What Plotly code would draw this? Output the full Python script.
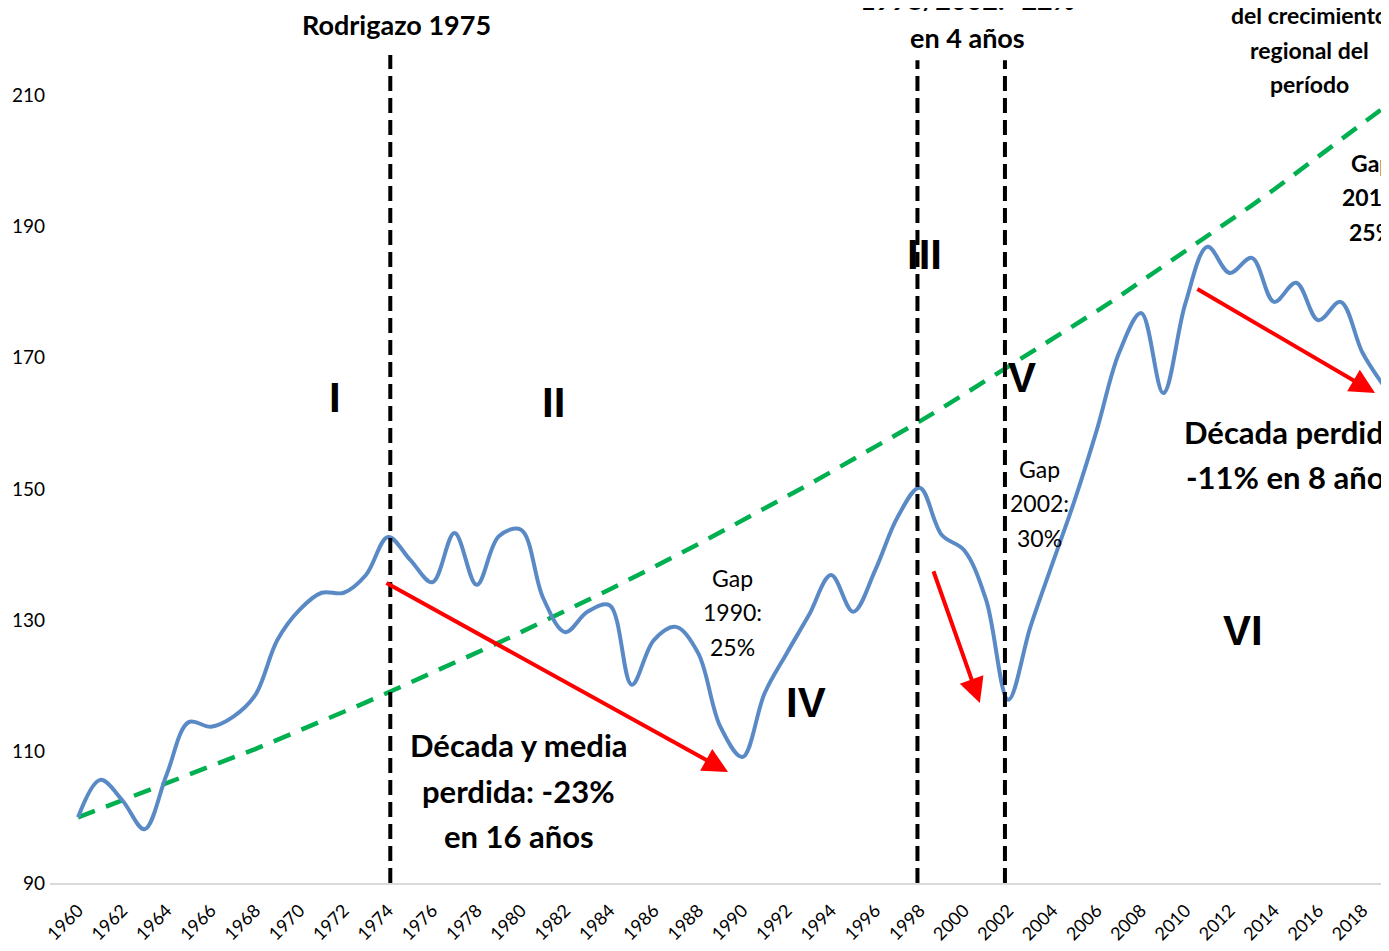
import plotly.graph_objects as go

# ---------------- data ----------------
years = [1960, 1961, 1962, 1963, 1964, 1965, 1966, 1967, 1968, 1969,
         1970, 1971, 1972, 1973, 1974, 1975, 1976, 1977, 1978, 1979,
         1980, 1981, 1982, 1983, 1984, 1985, 1986, 1987, 1988, 1989,
         1990, 1991, 1992, 1993, 1994, 1995, 1996, 1997, 1998, 1999,
         2000, 2001, 2002, 2003, 2004, 2005, 2006, 2007, 2008, 2009,
         2010, 2011, 2012, 2013, 2014, 2015, 2016, 2017, 2018, 2019]

gdp_index = [100.0, 105.7, 102.6, 98.2, 106.5, 114.5, 113.8, 115.3, 118.6, 127.0,
             131.6, 134.2, 134.2, 136.9, 142.7, 139.2, 135.8, 143.3, 135.4, 142.8,
             143.8, 133.4, 128.2, 131.3, 132.3, 120.2, 127.0, 129.0, 125.0, 113.8,
             109.2, 118.9, 125.0, 130.8, 136.9, 131.3, 137.7, 145.7, 150.2, 143.0,
             140.7, 133.1, 117.9, 129.0, 138.7, 148.3, 159.0, 170.7, 176.8, 164.6,
             178.3, 186.9, 182.9, 185.2, 178.5, 181.4, 175.7, 178.5, 170.7, 165.5]

regional_trend = [100.0, 101.3, 102.5, 103.8, 105.1, 106.4, 107.7, 109.1, 110.4, 111.8,
                  113.2, 114.6, 116.1, 117.5, 119.0, 120.5, 122.0, 123.5, 125.0, 126.6,
                  128.2, 129.8, 131.4, 133.1, 134.7, 136.4, 138.1, 139.8, 141.6, 143.4,
                  145.2, 147.0, 148.8, 150.7, 152.6, 154.5, 156.4, 158.4, 160.3, 162.3,
                  164.4, 166.4, 168.5, 170.6, 172.8, 174.9, 177.1, 179.3, 181.6, 183.9,
                  186.1, 188.5, 190.8, 193.2, 195.6, 198.1, 200.6, 203.1, 205.6, 208.2]

tick_years = [1960, 1962, 1964, 1966, 1968, 1970, 1972, 1974, 1976, 1978,
              1980, 1982, 1984, 1986, 1988, 1990, 1992, 1994, 1996, 1998,
              2000, 2002, 2004, 2006, 2008, 2010, 2012, 2014, 2016, 2018]
y_ticks = [90, 110, 130, 150, 170, 190, 210]

break_years = [1974.1, 1997.9, 2001.85]
break_tops = [216.1, 215.3, 215.3]

# red arrows: (tail year, tail value, head year, head value)
arrows = [
    (1973.86, 135.8, 1989.35, 106.9),
    (1998.6, 137.7, 2000.72, 117.4),
    (2010.47, 180.6, 2018.56, 164.6),
]

FONT = "Lato"
BLUE = "#5a8ac6"
GREEN = "#00b050"
Y_MIN, Y_MAX = 90, 216.09

fig = go.Figure()

fig.add_trace(go.Scatter(
    x=years, y=regional_trend, mode="lines",
    line=dict(color=GREEN, width=4.5, dash="18px,12px"),
    hoverinfo="skip", showlegend=False))

fig.add_trace(go.Scatter(
    x=years, y=gdp_index, mode="lines",
    line=dict(color=BLUE, width=4, shape="spline", smoothing=1.0),
    showlegend=False))

for bx, top in zip(break_years, break_tops):
    fig.add_shape(type="line", xref="x", yref="y", x0=bx, x1=bx, y0=Y_MIN, y1=top,
                  line=dict(color="black", width=4, dash="15px,7px"), layer="above")

for tx, ty, hx, hy in arrows:
    fig.add_annotation(x=hx, y=hy, ax=tx, ay=ty, xref="x", yref="y",
                       axref="x", ayref="y", text="", showarrow=True,
                       arrowhead=2, arrowsize=1.25, arrowwidth=4,
                       arrowcolor="#ff0000", standoff=0, startstandoff=0)


def label(lines, x, ys, size, bold=True):
    for txt, y in zip(lines, ys):
        t = "<b>%s</b>" % txt if bold else txt
        if y > Y_MAX:   # above the plot area: place in paper coordinates
            yref, yy = "paper", (y - Y_MIN) / (Y_MAX - Y_MIN)
        else:
            yref, yy = "y", y
        fig.add_annotation(x=x, y=yy, xref="x", yref=yref, text=t, showarrow=False,
                           xanchor="center", yanchor="middle",
                           font=dict(family=FONT, size=size, color="black"))


label(["Rodrigazo 1975"], 1974.4, [220.66], 27)
label(["1998/2002: -22%", "en 4 años"], 2000.14, [224.6, 218.83], 27)
label(["del crecimiento", "regional del", "período"], 2015.62, [222.18, 216.85, 211.68], 23)
label(["Gap", "2019:", "25%"], 2018.4, [199.65, 194.47, 189.14], 23)
label(["Gap", "1990:", "25%"], 1989.57, [136.45, 131.27, 125.94], 23, bold=False)
label(["Gap", "2002:", "30%"], 2003.43, [153.05, 147.87, 142.54], 23, bold=False)
label(["Década y media", "perdida: -23%", "en 16 años"], 1979.91, [111.02, 104.01, 97.16], 31)
label(["Década perdida", "-11% en 8 años"], 2014.8, [158.68, 151.83], 31)

for txt, x, y in [("I", 1971.6, 163.86), ("II", 1981.49, 163.1), ("III", 1998.24, 185.64),
                  ("IV", 1992.87, 117.42), ("V", 2002.6, 166.91), ("VI", 2012.6, 128.38)]:
    fig.add_annotation(x=x, y=y, xref="x", yref="y", text="<b>%s</b>" % txt,
                       showarrow=False, xanchor="center", yanchor="middle",
                       font=dict(family="Liberation Sans", size=42, color="black"))

fig.update_layout(
    width=1381, height=943,
    margin=dict(l=42, r=0, t=47, b=68),
    paper_bgcolor="white", plot_bgcolor="white",
    showlegend=False,
    font=dict(family=FONT, color="black"),
    xaxis=dict(range=[1958.736, 2019.19], tickvals=tick_years,
               ticktext=[str(t) for t in tick_years], tickangle=-45,
               tickfont=dict(size=18, family=FONT, color="black"),
               showgrid=False, zeroline=False, showline=True,
               linecolor="#d9d9d9", linewidth=2, ticks="", ticklabelstandoff=8),
    yaxis=dict(range=[Y_MIN, Y_MAX], tickvals=y_ticks,
               tickfont=dict(size=19, family=FONT, color="black"),
               showgrid=False, zeroline=False, showline=False, ticks="",
               ticklabelstandoff=4),
)

fig.write_html("out.html")
